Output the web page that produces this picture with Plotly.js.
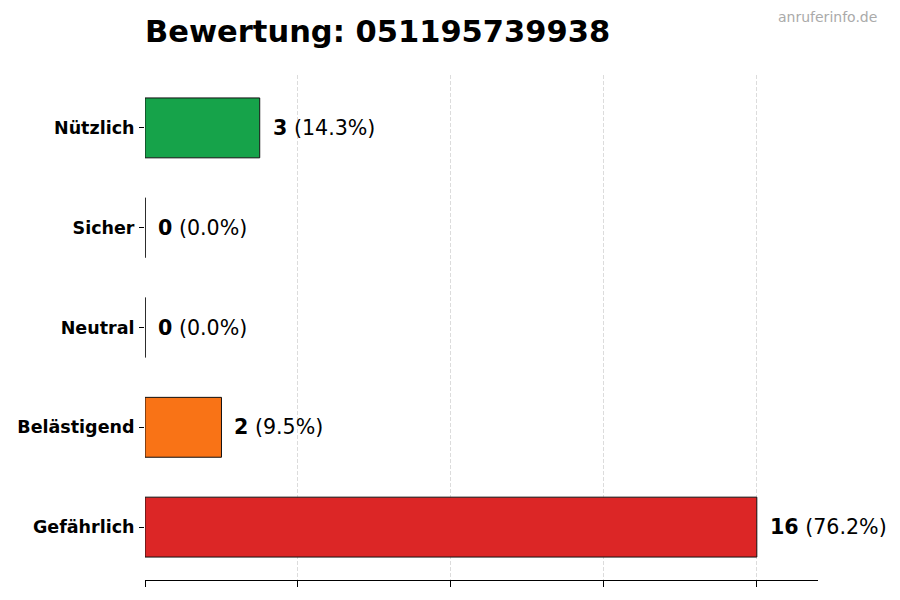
<!DOCTYPE html>
<html>
<head>
<meta charset="utf-8">
<script src="https://cdn.plot.ly/plotly-3.0.1.min.js"></script>
<style>html,body{margin:0;padding:0;background:#fff;}#chart{width:900px;height:600px;}</style>
</head>
<body>
<div id="chart"></div>
<script>
const categories = ['Nützlich', 'Sicher', 'Neutral', 'Belästigend', 'Gefährlich'];
const counts = [3, 0, 0, 2, 16];
const barColors = ['#16a34a', '#9ca3af', '#6b7280', '#f97316', '#dc2626'];
const titleText = 'Bewertung: 051195739938';
const watermark = 'anruferinfo.de';
const xTicks = [0, 4, 8, 12, 16];

const total = counts.reduce((a, b) => a + b, 0);
const FONT = 'DejaVu Sans, Verdana, sans-serif';

const trace = {
  type: 'bar',
  orientation: 'h',
  x: counts,
  y: categories,
  width: 0.6,
  marker: { color: barColors, line: { color: '#111', width: 1 } },
  hoverinfo: 'none'
};

const annotations = counts.map((v, i) => ({
  x: v, y: i, xref: 'x', yref: 'y',
  text: '<b>' + v + '</b> (' + (total ? (v / total * 100).toFixed(1) : '0.0') + '%)',
  showarrow: false, xanchor: 'left', yanchor: 'middle', xshift: 11,
  font: { family: FONT, size: 20.6, color: '#000' }
}));
annotations.push({
  xref: 'paper', yref: 'paper', x: (879 - 145) / 673, y: 1 + (75 - 17) / 505,
  xanchor: 'right', yanchor: 'middle', showarrow: false,
  text: watermark, font: { family: FONT, size: 14, color: '#aaaaaa' }
});

const shapes = [];
counts.forEach((v, i) => {
  if (v === 0) {
    shapes.push({ type: 'line', xref: 'x', yref: 'y', x0: v, x1: v, y0: i - 0.3, y1: i + 0.3,
      line: { color: '#111', width: 1 } });
  }
});

const layout = {
  width: 900, height: 600,
  paper_bgcolor: '#fff', plot_bgcolor: '#fff',
  margin: { l: 145, r: 82, t: 75, b: 20 },
  showlegend: false,
  title: { text: '<b>' + titleText + '</b>', x: 145 / 900, xref: 'container', xanchor: 'left',
    y: 1 - 31 / 600, yref: 'container', yanchor: 'middle',
    font: { family: FONT, size: 30.5, color: '#000' } },
  xaxis: {
    range: [0, 17.6], tickvals: xTicks, showticklabels: false,
    ticks: 'outside', ticklen: 6, tickcolor: '#000', tickwidth: 1,
    showgrid: true, gridcolor: '#dcdcdc', griddash: '4px,2px', gridwidth: 1,
    zeroline: false, showline: true, linecolor: '#000', linewidth: 1, fixedrange: true
  },
  yaxis: {
    type: 'category', categoryorder: 'array', categoryarray: categories,
    range: [4.53, -0.53],
    ticks: 'outside', ticklen: 5, tickcolor: '#000', tickwidth: 1, ticklabelstandoff: 1,
    showgrid: false, zeroline: false, showline: false,
    tickfont: { family: FONT, size: 17.5, color: '#000', weight: 'bold' }, fixedrange: true
  },
  annotations: annotations,
  shapes: shapes
};

Plotly.newPlot('chart', [trace], layout, { displayModeBar: false, staticPlot: true });
</script>
</body>
</html>
